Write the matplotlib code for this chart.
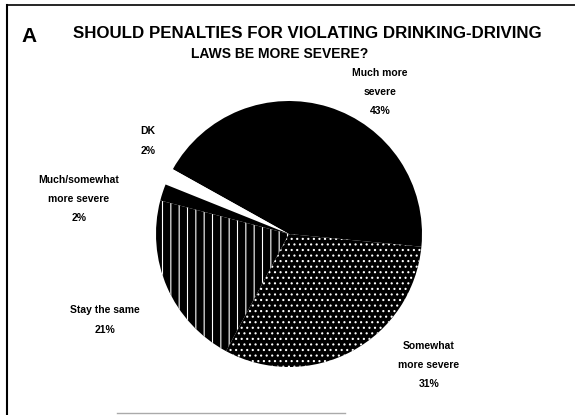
import matplotlib
matplotlib.use("Agg")
import matplotlib.pyplot as plt
from matplotlib.lines import Line2D

plt.rcParams['font.family'] = ['Liberation Sans', 'DejaVu Sans']
plt.rcParams['hatch.linewidth'] = 0.8

# data
labels = ["Much more\nsevere\n43%", "DK\n2%", "Much/somewhat\nmore severe\n2%",
          "Stay the same\n21%", "Somewhat\nmore severe\n31%"]
shares = [43, 2, 2, 21, 31]
fills = ["black", "white", "black", "black", "black"]
hatches = [None, None, None, "||", "..."]

W, H = 575, 415
fig = plt.figure(figsize=(W / 100, H / 100), dpi=100)

# pie axes (square, centred on the pie)
cx, cy, half = 289, 234, 150
ax = fig.add_axes([(cx - half) / W, (H - cy - half) / H, 2 * half / W, 2 * half / H])
wedges, _ = ax.pie(shares, startangle=-5.5, counterclock=True, radius=133 / half,
                   colors=fills, wedgeprops=dict(linewidth=0, edgecolor="white"))
for w, h in zip(wedges, hatches):
    if h:
        w.set_hatch(h)
ax.set_xlim(-1, 1)
ax.set_ylim(-1, 1)
ax.axis("off")

# labels placed as on the original
label_pos = [(380, 92), (148, 141), (79, 199), (105, 320), (429, 365)]
for txt, (x, y) in zip(labels, label_pos):
    fig.text(x / W, 1 - y / H, txt, ha="center", va="center", fontsize=7.5,
             fontweight="bold", linespacing=2.15)

# title
fig.text(29 / W, 1 - 36 / H, "A", fontsize=15, fontweight="bold", ha="center", va="center")
fig.text(307 / W, 1 - 33 / H, "SHOULD PENALTIES FOR VIOLATING DRINKING-DRIVING",
         fontsize=12.2, fontweight="heavy", ha="center", va="center")
fig.text(280 / W, 1 - 54 / H, "LAWS BE MORE SEVERE?",
         fontsize=10, fontweight="heavy", ha="center", va="center")

# frame lines of the scanned panel
fig.add_artist(Line2D([7 / W, 7 / W], [0, 1 - 5 / H], color="black", lw=1.5))
fig.add_artist(Line2D([7 / W, 1], [1 - 5 / H, 1 - 5 / H], color="black", lw=1.2))
fig.add_artist(Line2D([117 / W, 345 / W], [1 - 413 / H, 1 - 413 / H], color="#aaaaaa", lw=1))

fig.savefig("out.png", dpi=100)
